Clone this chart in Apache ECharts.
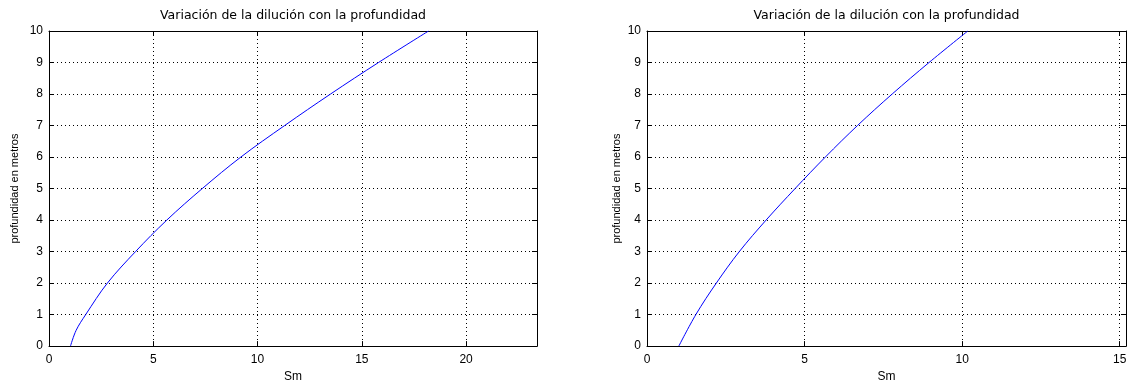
<!DOCTYPE html>
<html>
<head>
<meta charset="utf-8">
<script src="https://cdn.jsdelivr.net/npm/echarts@6/dist/echarts.min.js"></script>
<style>
  html, body { margin: 0; padding: 0; background: #fff; }
  #chart { width: 1130px; height: 388px; }
</style>
</head>
<body>
<div id="chart"></div>
<script>
// values
const plotTitle = 'Variación de la dilución con la profundidad';
const xName = 'Sm';
const yName = 'profundidad en metros';

const leftSm = [1.03, 1.3, 1.76, 2.8, 4.15, 5.65, 7.35, 9.2, 11.3, 13.5, 15.8, 18.2];
const leftDepth = [0, 0.5, 1, 2, 3, 4, 5, 6, 7, 8, 9, 10];

const rightSm = [1.01, 1.55, 2.2, 2.93, 3.78, 4.7, 5.66, 6.68, 7.78, 8.95, 10.18];
const rightDepth = [0, 1, 2, 3, 4, 5, 6, 7, 8, 9, 10];

const xMaxLeft = 23.4;
const xMaxRight = 15.2;

const font = 'Liberation Sans, Arial, sans-serif';

function pairs(xs, ys) {
  return xs.map((x, i) => [x, ys[i]]);
}

function bottomX(gridIndex, max) {
  return {
    type: 'value', gridIndex: gridIndex, position: 'bottom',
    min: 0, max: max, interval: 5,
    name: xName, nameLocation: 'middle', nameGap: 23,
    nameTextStyle: { color: '#000', fontSize: 12, fontFamily: font },
    axisLine: { onZero: false, lineStyle: { color: '#000', width: 1 } },
    axisTick: { inside: true, length: 5, lineStyle: { color: '#000' } },
    axisLabel: {
      color: '#000', fontSize: 12, fontFamily: font, margin: 8,
      formatter: v => (v % 5 === 0 ? v : '')
    },
    splitLine: { show: true, lineStyle: { color: '#000', type: [1, 3], width: 1 } }
  };
}

function topX(gridIndex, max) {
  return {
    type: 'value', gridIndex: gridIndex, position: 'top',
    min: 0, max: max, interval: 5,
    name: plotTitle, nameLocation: 'middle', nameGap: 9,
    nameTextStyle: { color: '#000', fontSize: 12.5, fontFamily: 'DejaVu Sans, ' + font },
    axisLine: { onZero: false, lineStyle: { color: '#000', width: 1 } },
    axisTick: { inside: true, length: 5, lineStyle: { color: '#000' } },
    axisLabel: { show: false },
    splitLine: { show: false }
  };
}

function leftY(gridIndex, gap) {
  return {
    type: 'value', gridIndex: gridIndex, position: 'left',
    min: 0, max: 10, interval: 1,
    name: yName, nameLocation: 'middle', nameGap: gap,
    nameTextStyle: { color: '#000', fontSize: 11, fontFamily: 'Liberation Sans Narrow, ' + font },
    axisLine: { onZero: false, lineStyle: { color: '#000', width: 1 } },
    axisTick: { inside: true, length: 5, lineStyle: { color: '#000' } },
    axisLabel: { color: '#000', fontSize: 12, fontFamily: font, margin: 6 },
    splitLine: { show: true, lineStyle: { color: '#000', type: [1, 3], width: 1 } }
  };
}

function rightY(gridIndex) {
  return {
    type: 'value', gridIndex: gridIndex, position: 'right',
    min: 0, max: 10, interval: 1,
    axisLine: { show: true, onZero: false, lineStyle: { color: '#000', width: 1 } },
    axisTick: { show: true, inside: true, length: 5, lineStyle: { color: '#000' } },
    axisLabel: { show: false },
    splitLine: { show: false }
  };
}

const chart = echarts.init(document.getElementById('chart'), null, { renderer: 'canvas' });

chart.setOption({
  backgroundColor: '#fff',
  animation: false,
  grid: [
    { left: 49, right: 593, top: 31, bottom: 36 },
    { left: 647, right: 4, top: 31, bottom: 38 }
  ],
  xAxis: [
    bottomX(0, xMaxLeft), topX(0, xMaxLeft),
    bottomX(1, xMaxRight), topX(1, xMaxRight)
  ],
  yAxis: [
    leftY(0, 29), rightY(0),
    leftY(1, 25), rightY(1)
  ],
  series: [
    {
      type: 'line', xAxisIndex: 0, yAxisIndex: 0,
      data: pairs(leftSm, leftDepth),
      smooth: 0.35, showSymbol: false,
      lineStyle: { color: '#0000ff', width: 1 }
    },
    {
      type: 'line', xAxisIndex: 2, yAxisIndex: 2,
      data: pairs(rightSm, rightDepth),
      smooth: 0.35, showSymbol: false,
      lineStyle: { color: '#0000ff', width: 1 }
    }
  ]
});
</script>
</body>
</html>
